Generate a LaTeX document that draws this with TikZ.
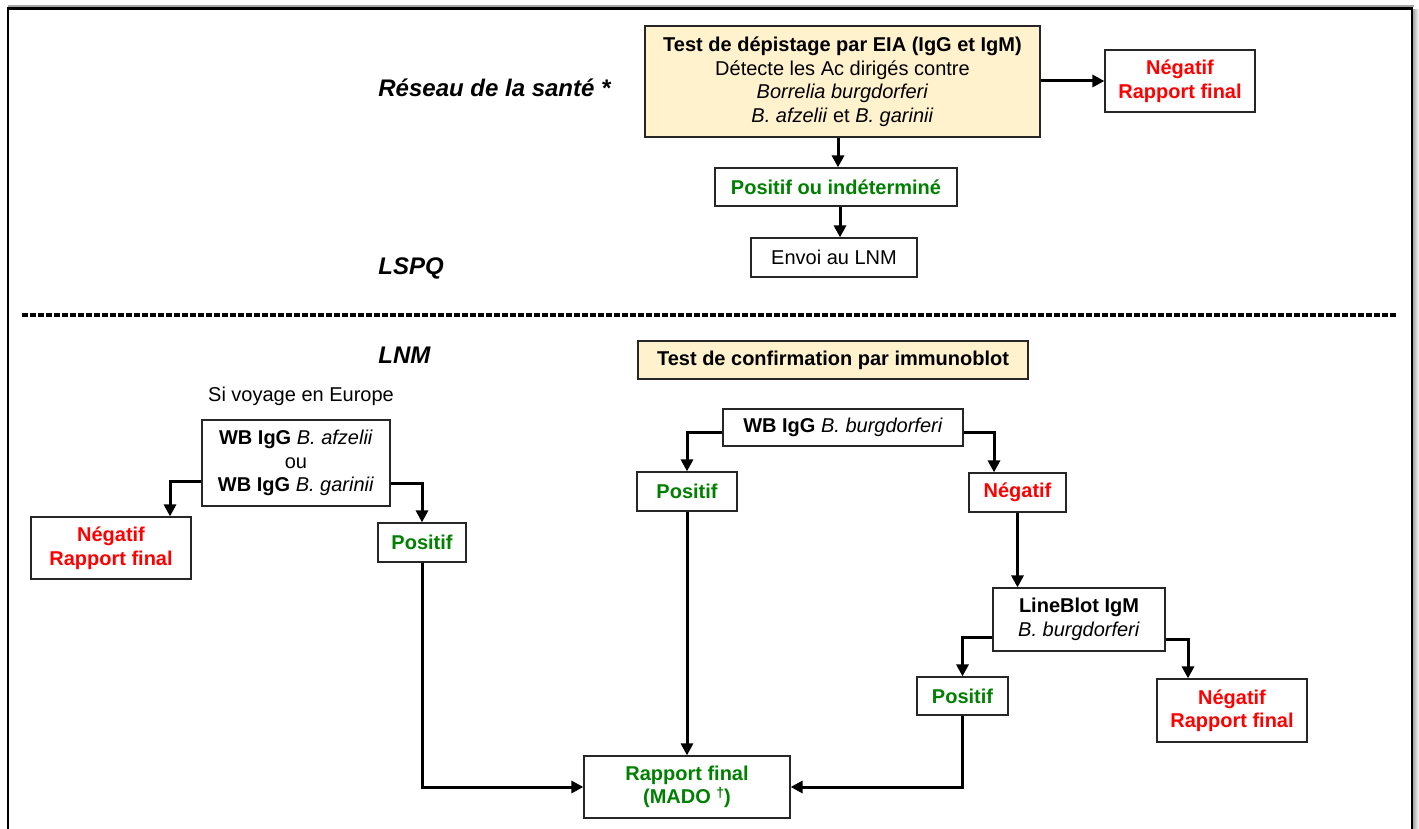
\documentclass[tikz,border=0pt]{standalone}
\usepackage{fontspec}
\setmainfont{Liberation Sans}
\usetikzlibrary{calc,arrows.meta}

\definecolor{boxyellow}{RGB}{255,242,204}
\definecolor{posgreen}{RGB}{0,128,0}
\definecolor{negred}{RGB}{255,0,0}

\tikzset{
  flowbox/.style={draw=black!85, line width=0.6pt, fill=white, align=center, inner sep=0pt,
    font=\fontsize{10}{11.75}\selectfont},
  testbox/.style={flowbox, fill=boxyellow},
  posbox/.style={flowbox, text=posgreen, font=\fontsize{10}{11.75}\selectfont\bfseries},
  negbox/.style={flowbox, text=negred, font=\fontsize{10}{11.75}\selectfont\bfseries},
  sitelabel/.style={anchor=west, inner sep=0pt, font=\fontsize{12}{14}\selectfont\bfseries\itshape},
  arr/.style={-{Triangle[length=6pt,width=6pt]}, line width=1.5pt},
}

\begin{document}
\begin{tikzpicture}[x=0.5pt,y=-0.5pt]
\useasboundingbox (0,0) rectangle (1419,829);

% frame
\fill[left color=gray!70, right color=white] (1413,10) rectangle (1419,829);
\draw[gray!70, line width=0.8pt] (8,6) -- (1414,6);
\draw[line width=1.3pt] (8,829) -- (8,8.5) -- (1412,8.5) -- (1412,829);

% sites
\node[sitelabel] (reseau) at (378,88) {Réseau de la santé *};
\node[sitelabel] (lspq) at (378,268) {LSPQ};
\node[sitelabel] (lnm) at (378,355) {LNM};

% depistage
\node[testbox, minimum width=197.5pt, minimum height=55.5pt] (eia) at (842.5,81.5)
  {\textbf{Test de dépistage par EIA (IgG et IgM)}\\Détecte les Ac dirigés contre\\
   \textit{Borrelia burgdorferi}\\\textit{B. afzelii} et \textit{B. garinii}};
\node[negbox, minimum width=75pt, minimum height=31pt] (neg1) at (1180,81) {Négatif\\Rapport final};
\node[posbox, minimum width=121pt, minimum height=19pt] (posind) at (836,187) {Positif ou indéterminé};
\node[flowbox, minimum width=83pt, minimum height=19.5pt] (envoi) at (834,257.5) {Envoi au LNM};

\draw[arr] (eia.east |- neg1.west) -- (neg1.west);
\draw[arr] ([xshift=1pt]eia.south -| posind.north) -- ([xshift=1pt]posind.north);
\draw[arr] ([xshift=2pt]posind.south) -- ([xshift=2pt]posind.south |- envoi.north);

% separation
\draw[line width=2pt, dash pattern=on 3pt off 1pt] (22,315) -- (1398,315);

% confirmation
\node[testbox, minimum width=195pt, minimum height=19pt, font=\fontsize{10}{11.75}\selectfont\bfseries]
  (confirm) at (833,360) {Test de confirmation par immunoblot};

% Europe
\node[inner sep=0pt, font=\fontsize{10}{11.75}\selectfont] (voyage) at (301,396) {Si voyage en Europe};
\node[flowbox, minimum width=94pt, minimum height=43pt] (wbeu) at (296,463)
  {\textbf{WB IgG} \textit{B. afzelii}\\ou\\\textbf{WB IgG} \textit{B. garinii}};
\node[negbox, minimum width=80pt, minimum height=31pt] (neg2) at (111,548) {Négatif\\Rapport final};
\node[posbox, minimum width=44pt, minimum height=19.5pt] (pos2) at (422,542.5) {Positif};

\draw[arr] ([yshift=12.5pt]wbeu.south west) -| ([xshift=29.5pt]neg2.north);
\draw[arr] ([yshift=11.5pt]wbeu.south east) -| (pos2.north);

% burgdorferi
\node[flowbox, minimum width=120pt, minimum height=18.5pt] (wbbb) at (843,427.5)
  {\textbf{WB IgG} \textit{B. burgdorferi}};
\node[posbox, minimum width=50pt, minimum height=19.5pt] (pos3) at (687,491.5) {Positif};
\node[negbox, minimum width=48.5pt, minimum height=19.5pt] (neg3) at (1017.5,492.5) {Négatif};

\draw[arr] ([yshift=-2.5pt]wbbb.west) -| (pos3.north);
\draw[arr] ([yshift=-2.5pt]wbbb.east) -| ([xshift=-11.75pt]neg3.north);

% lineblot
\node[flowbox, minimum width=86pt, minimum height=31.5pt] (lineblot) at (1079,619.5)
  {\textbf{LineBlot IgM}\\\textit{B. burgdorferi}};
\node[posbox, minimum width=45.5pt, minimum height=19pt] (pos4) at (962.5,696) {Positif};
\node[negbox, minimum width=75pt, minimum height=31.5pt] (neg4) at (1232,710.5) {Négatif\\Rapport final};

\draw[arr] (neg3.south) -- (neg3.south |- lineblot.north);
\draw[arr] ([yshift=-8.75pt]lineblot.west) -| (pos4.north);
\draw[arr] ([yshift=-9.75pt]lineblot.east) -| ([xshift=-22pt]neg4.north);

% rapport final
\node[posbox, minimum width=103pt, minimum height=31pt] (rapport) at (687,787)
  {Rapport final\\(MADO {\fontsize{7}{8}\selectfont\raisebox{3pt}{\textdagger}})};

\draw[arr] (pos2.south) |- (rapport.west);
\draw[arr] (pos3.south) -- (rapport.north);
\draw[arr] (pos4.south) |- (rapport.east);
\end{tikzpicture}
\end{document}
